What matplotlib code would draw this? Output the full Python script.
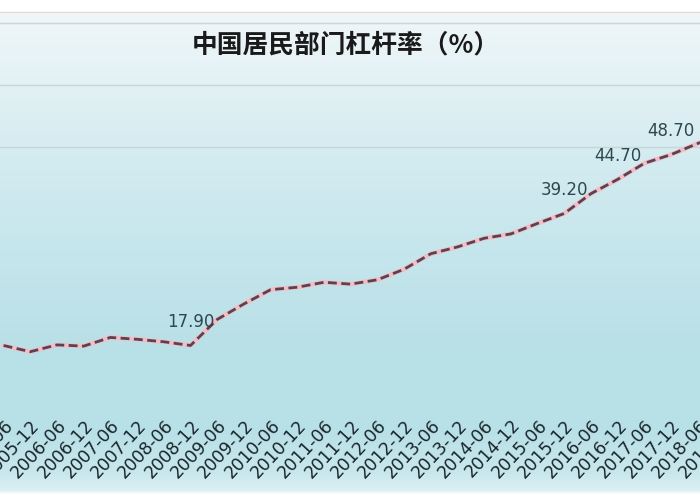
import numpy as np
import matplotlib.pyplot as plt
from matplotlib.colors import LinearSegmentedColormap

# ---------- Datos ----------
periods = ["2005-06", "2005-12", "2006-06", "2006-12", "2007-06", "2007-12",
           "2008-06", "2008-12", "2009-06", "2009-12", "2010-06", "2010-12",
           "2011-06", "2011-12", "2012-06", "2012-12", "2013-06", "2013-12",
           "2014-06", "2014-12", "2015-06", "2015-12", "2016-06", "2016-12",
           "2017-06", "2017-12", "2018-06", "2018-12"]
leverage = [17.9, 16.9, 18.0, 17.8, 19.2, 18.9,
            18.5, 17.9, 22.1, 24.6, 26.9, 27.3,
            28.1, 27.8, 28.5, 30.2, 32.7, 33.8,
            35.2, 35.9, 37.6, 39.2, 42.4, 44.7,
            47.3, 48.7, 50.5, 52.0]
labeled_periods = ["2008-12", "2015-12", "2016-12", "2017-12"]
gridlines = [50, 60, 70]
title = "中国居民部门杠杆率（%）"

plt.rcParams['font.family'] = ['DejaVu Sans']

fig = plt.figure(figsize=(7, 5), dpi=100)

# ---------- Fondo degradado ----------
bg = fig.add_axes([0, 0, 1, 1], zorder=0)
stops = [(0.0, '#ffffff'), (0.022, '#ffffff'), (0.027, '#eef6f8'),
         (0.12, '#e7f3f6'), (0.30, '#d5ecf1'), (0.50, '#c5e6ec'),
         (0.70, '#b9e0e7'), (0.86, '#b8e0e7'), (0.95, '#c9e8ed'),
         (0.983, '#dbf0f3'), (0.99, '#ffffff'), (1.0, '#ffffff')]
cmap = LinearSegmentedColormap.from_list("bg", stops)
grad = np.linspace(0, 1, 500).reshape(-1, 1)
bg.imshow(grad, cmap=cmap, aspect='auto', extent=[0, 1, 0, 1], origin='upper')
bg.set_axis_off()

# ---------- Gráfica (recortada a los lados como la foto) ----------
ax = fig.add_axes([-50 / 700, 0.19, 800 / 700, 0.786], zorder=1)
ax.patch.set_alpha(0)
x = np.arange(len(periods))

for g in gridlines:
    ax.axhline(g, color='#c8d5d9', lw=1, zorder=1)

ax.plot(x, leverage, color='#f5bcc4', lw=3.2, solid_capstyle='round', zorder=2)
ax.plot(x, leverage, color='#5a4250', lw=2.0, dashes=(3.2, 1.6), zorder=3)

for p in labeled_periods:
    i = periods.index(p)
    ax.annotate(f"{leverage[i]:.2f}", (x[i], leverage[i]), xytext=(0, 17),
                textcoords='offset points', ha='center', va='center',
                fontsize=12, color='#2e4850', zorder=4)

ax.set_xlim(-2.007, 27.955)
ax.set_ylim(8.3, 71.7)
ax.set_yticks([])
ax.set_xticks(x)
ax.set_xticklabels(periods, rotation=47, ha='right', va='top',
                   rotation_mode='anchor', fontsize=12.5, color='#18252a')
ax.tick_params(axis='x', length=0, pad=8)
for side in ['left', 'right', 'bottom']:
    ax.spines[side].set_visible(False)
ax.spines['top'].set_color('#e0d8d8')
ax.spines['top'].set_linewidth(1)

fig.text(346 / 700, 0.91, title, ha='center', va='center', fontsize=18.5,
         fontweight='bold', color='#1a1a1a',
         family=['Noto Sans CJK SC', 'DejaVu Sans'])

fig.savefig("out.png", dpi=100)
